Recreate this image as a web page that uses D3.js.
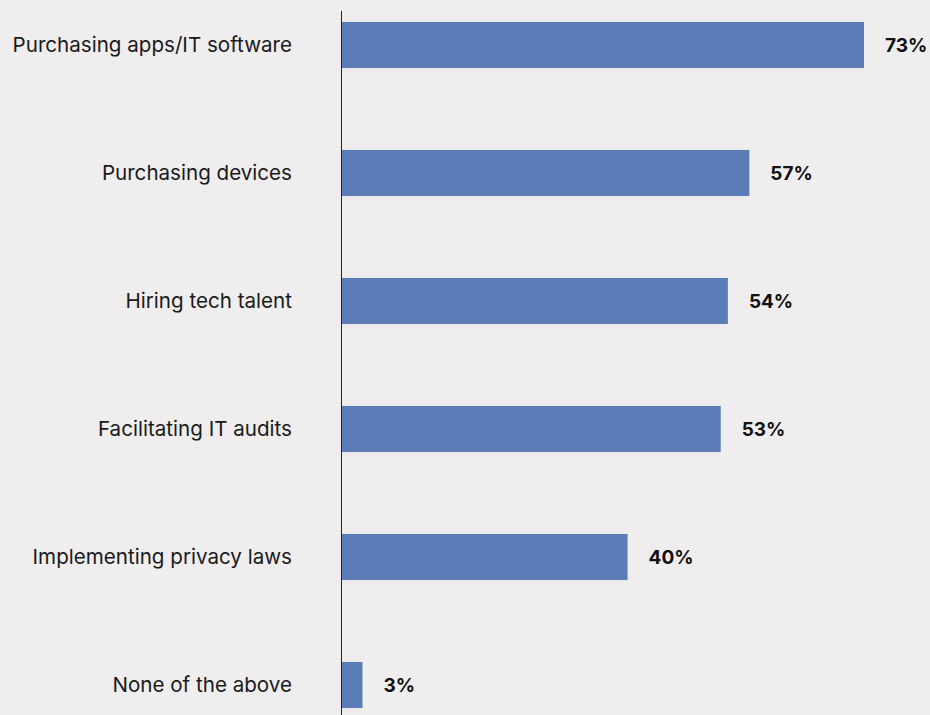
<!DOCTYPE html>
<html>
<head>
<meta charset="utf-8">
<script src="https://cdn.jsdelivr.net/npm/d3@7"></script>
<style>
  html, body { margin: 0; padding: 0; background: #efedee; }
  svg { display: block; font-family: Inter, "Noto Sans", sans-serif; }
</style>
</head>
<body>
<svg id="chart" width="930" height="715"></svg>
<script>
let categories = ['Purchasing apps/IT software', 'Purchasing devices', 'Hiring tech talent',
    'Facilitating IT audits', 'Implementing privacy laws', 'None of the above']
let values = [73, 57, 54, 53, 40, 3]

let width = 930, height = 715
let axis_x = 341

let svg = d3.select('#chart')

let xScale = d3.scaleLinear()
    .domain([0, 73])
    .range([axis_x, 864])

let yScale = d3.scaleBand()
    .domain(categories)
    .range([-19, 749])
    .paddingInner(0.64)
    .paddingOuter(0.32)

svg.append('g')
    .selectAll('rect')
    .data(values)
    .join('rect')
    .attr('x', xScale(0))
    .attr('y', (d, i) => yScale(categories[i]))
    .attr('width', d => xScale(d) - xScale(0))
    .attr('height', yScale.bandwidth())
    .attr('fill', '#5a7db8')

// category labels
svg.append('g')
    .selectAll('text')
    .data(categories)
    .join('text')
    .attr('x', 292)
    .attr('y', d => yScale(d) + yScale.bandwidth() / 2)
    .attr('dy', '0.35em')
    .attr('text-anchor', 'end')
    .attr('font-size', 20.6)
    .attr('fill', '#1a1a1a')
    .text(d => d)

// value labels
svg.append('g')
    .selectAll('text')
    .data(values)
    .join('text')
    .attr('x', d => xScale(d) + 21)
    .attr('y', (d, i) => yScale(categories[i]) + yScale.bandwidth() / 2)
    .attr('dy', '0.35em')
    .attr('font-size', 19)
    .attr('font-weight', 'bold')
    .attr('fill', '#111')
    .text(d => d + '%')

// vertical axis line
svg.append('line')
    .attr('x1', axis_x + 0.5).attr('x2', axis_x + 0.5)
    .attr('y1', 11).attr('y2', height)
    .attr('stroke', '#222')
    .attr('stroke-width', 1)
</script>
</body>
</html>
